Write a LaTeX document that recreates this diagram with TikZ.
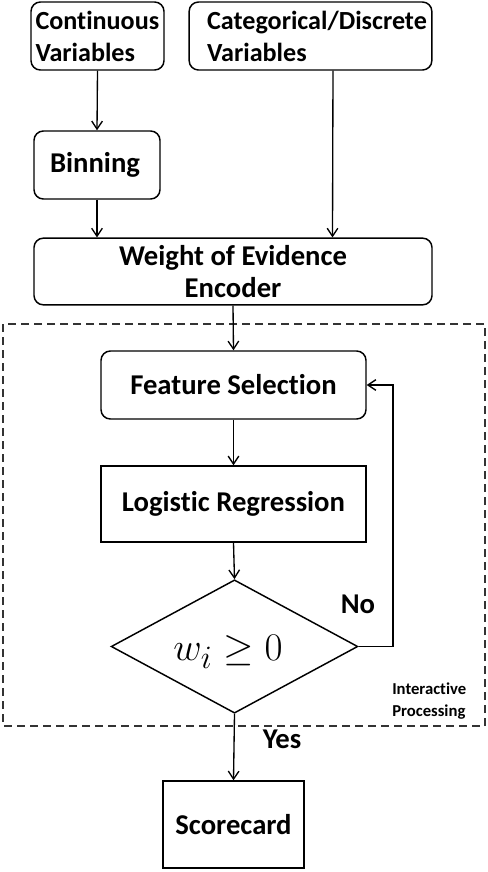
\documentclass[tikz,border=0pt]{standalone}
\usepackage{fontspec}
\setmainfont{Carlito}[Ligatures=NoCommon]
\usetikzlibrary{shapes.geometric,arrows.meta,calc}
\definecolor{dashgray}{HTML}{333333}
\tikzset{
  rbox/.style={draw, line width=1.1pt, rounded corners=7pt, font=\bfseries\fontsize{21.5}{24.5}\selectfont, inner sep=0pt},
  topbox/.style={rbox, font=\bfseries\fontsize{19.6}{24}\selectfont},
  sbox/.style={draw, line width=1.1pt, font=\bfseries\fontsize{21.5}{24.5}\selectfont, inner sep=0pt},
  arr/.style={-{Straight Barb[length=6pt,width=8pt]}, line width=1pt},
  lbl/.style={font=\bfseries\fontsize{21.5}{25}\selectfont, inner sep=0pt},
  small/.style={font=\bfseries\fontsize{12.5}{16}\selectfont, inner sep=0pt, align=left}
}
\begin{document}
\begin{tikzpicture}[x=0.75pt,y=-0.75pt]
\useasboundingbox (0,0) rectangle (488,872);
\node[topbox, minimum width=99.75pt, minimum height=51pt, text width=93pt, align=left] (cont) at (97.5,36) {\mbox{Continuous}\\\mbox{Variables}};
\node[topbox, minimum width=182pt, minimum height=51pt, text width=176pt, align=left] (cat) at (310.5,36) {\raisebox{-3pt}{\hspace*{10.5pt}\mbox{Categorical/Discrete}}\\\raisebox{-3pt}{\hspace*{10.5pt}\mbox{Variables}}};
\node[rbox, minimum width=94.5pt, minimum height=51pt] (bin) at (97,165) {Binning\hspace*{3pt}};
\node[rbox, minimum width=298.5pt, minimum height=50pt, align=center] (woe) at (233,271.5) {Weight of Evidence\\Encoder};
\node[rbox, minimum width=198.75pt, minimum height=51pt] (fs) at (233.5,385) {Feature Selection};
\node[sbox, minimum width=198.75pt, minimum height=57pt] (lr) at (233.5,504) {Logistic Regression};
\node[draw, diamond, line width=1.1pt, minimum width=185pt, minimum height=100pt, inner sep=0pt] (dia) at (234.5,646.5) {};
\node[inner sep=0pt, font=\fontsize{24.88}{28}\selectfont] (cond) at (228,652) {\scalebox{1.18}{$w_i \geq 0$}};
\node[sbox, minimum width=105.75pt, minimum height=65.25pt] (sc) at (233.5,824.5) {Scorecard};
\draw[dashgray, dash pattern=on 6pt off 3.75pt, line width=1.1pt] (3,324) rectangle (485,726);
\draw[arr] (cont.south) -- (bin.north);
\draw[arr] (bin.south) -- (bin.south |- woe.north);
\draw[arr] ($(cat.south)+(22.5,0)$) -- ($(cat.south |- woe.north)+(22,0)$);
\draw[arr] (woe.south) -- (fs.north);
\draw[arr] (fs.south) -- (lr.north);
\draw[arr] (lr.south) -- (dia.north);
\draw[arr] (dia.south) -- (sc.north);
\coordinate (loopb) at (393,646.5);
\coordinate (loopt) at (393,385);
\draw[arr] (dia.east) -- (loopb) -- (loopt) -- (fs.east);
\node[lbl] (no) at (358,604) {No};
\node[lbl] (yes) at (282,739) {Yes};
\node[small, anchor=west] (ip) at (392,701) {Interactive\\Processing};
\end{tikzpicture}
\end{document}
